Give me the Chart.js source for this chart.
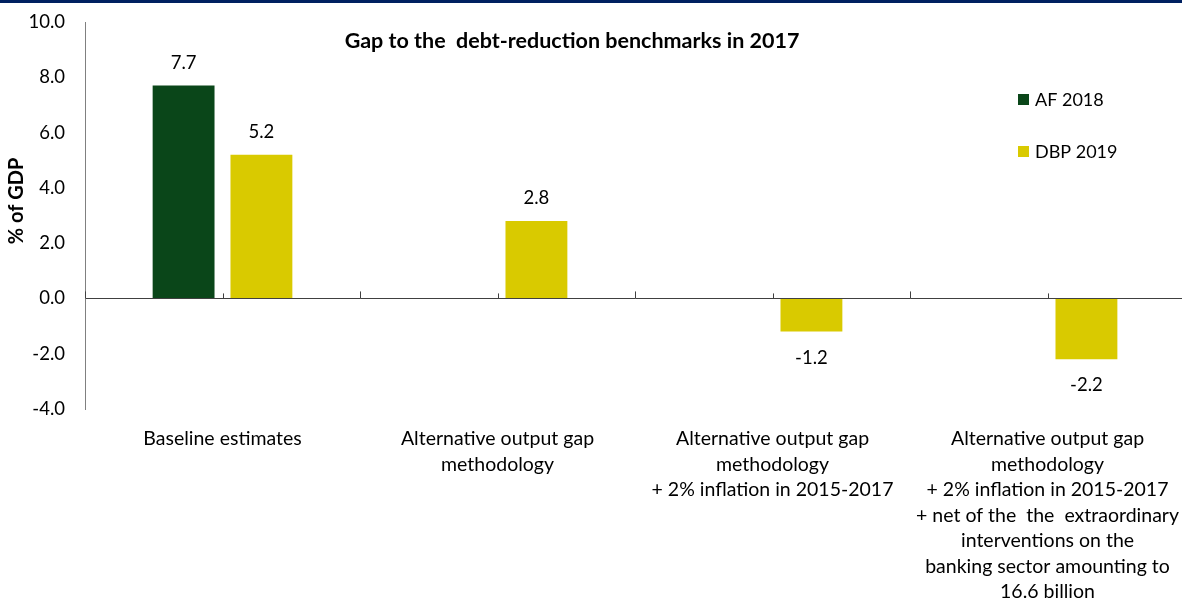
<!DOCTYPE html>
<html>
<head>
<meta charset="utf-8">
<script src="https://cdn.jsdelivr.net/npm/chart.js@4.4.1/dist/chart.umd.min.js"></script>
<style>
  html, body { margin: 0; padding: 0; background: #fff; overflow: hidden; }
  #wrap { width: 1188px; height: 600px; position: relative; }
</style>
</head>
<body>
<div id="wrap"><canvas id="myChart"></canvas></div>
<script>
// chart data
var categories = [
    ["Baseline estimates"],
    ["Alternative output gap", "methodology"],
    ["Alternative output gap", "methodology", "+ 2% inflation in 2015-2017"],
    ["Alternative output gap", "methodology", "+ 2% inflation in 2015-2017",
     "+ net of the  the  extraordinary", "interventions on the",
     "banking sector amounting to", "16.6 billion"]
];
var af2018 = [7.7, null, null, null];
var dbp2019 = [5.2, 2.8, -1.2, -2.2];
var yMin = -4, yMax = 10, yStep = 2;
var chartTitle = "Gap to the  debt-reduction benchmarks in 2017";
var yTitle = "% of GDP";

var FONT = "Lato, 'Open Sans', sans-serif";

// band, titles, zero-line ticks, value labels, legend
var extras = {
    id: 'extras',
    beforeDraw: function(chart) {
        var ctx = chart.ctx;
        ctx.save();
        ctx.fillStyle = '#fff';
        ctx.fillRect(0, 0, chart.width, chart.height);
        ctx.fillStyle = '#002060';
        ctx.fillRect(0, 0, chart.width, 3);
        ctx.restore();
    },
    afterDatasetsDraw: function(chart) {
        var ctx = chart.ctx;
        var xs = chart.scales.x, ys = chart.scales.y;
        var y0 = ys.getPixelForValue(0);
        ctx.save();

        // tick marks on the zero line
        ctx.strokeStyle = '#404040';
        ctx.lineWidth = 1;
        for (var i = 0; i < categories.length; i++) {
            var xb = Math.round(xs.getPixelForValue(i - 0.5)) + 0.5;
            var xc = Math.round(xs.getPixelForValue(i)) + 0.5;
            ctx.beginPath();
            ctx.moveTo(xb, y0); ctx.lineTo(xb, y0 - 7);
            ctx.moveTo(xc, y0); ctx.lineTo(xc, y0 - 5);
            ctx.stroke();
        }

        // value labels
        ctx.fillStyle = '#000';
        ctx.font = '18.5px ' + FONT;
        ctx.textAlign = 'center';
        ctx.textBaseline = 'middle';
        chart.data.datasets.forEach(function(ds, di) {
            var meta = chart.getDatasetMeta(di);
            meta.data.forEach(function(bar, j) {
                var v = ds.data[j];
                if (v === null) return;
                var ty = v >= 0 ? bar.y - 23 : bar.y + 26;
                ctx.fillText(v.toFixed(1), bar.x, ty);
            });
        });

        // title
        ctx.font = 'bold 21.5px ' + FONT;
        ctx.fillText(chartTitle, 572, 41);

        // y axis title
        ctx.save();
        ctx.translate(17, 201);
        ctx.rotate(-Math.PI / 2);
        ctx.font = 'bold 20px ' + FONT;
        ctx.fillText(yTitle, 0, 0);
        ctx.restore();

        // legend
        ctx.textAlign = 'left';
        ctx.font = '18px ' + FONT;
        chart.data.datasets.forEach(function(ds, di) {
            var ly = 100 + di * 52;
            ctx.fillStyle = ds.backgroundColor;
            ctx.fillRect(1018, ly - 6, 11, 11);
            ctx.fillStyle = '#000';
            ctx.fillText(ds.label, 1035, ly);
        });
        ctx.restore();
    }
};

new Chart("myChart", {
    type: "bar",
    data: {
        labels: categories,
        datasets: [
            { label: "AF 2018", data: af2018, backgroundColor: "#0a4619",
              categoryPercentage: 0.566, barPercentage: 0.795 },
            { label: "DBP 2019", data: dbp2019, backgroundColor: "#d9ca00",
              categoryPercentage: 0.566, barPercentage: 0.795 }
        ]
    },
    options: {
        responsive: true,
        maintainAspectRatio: false,
        animation: false,
        layout: { padding: { top: 22, right: 0, bottom: 0, left: 0 } },
        plugins: {
            legend: { display: false },
            tooltip: { enabled: false },
            title: { display: false }
        },
        scales: {
            x: {
                grid: { display: false },
                border: { display: false },
                ticks: {
                    autoSkip: false, maxRotation: 0, minRotation: 0,
                    padding: 9, color: '#000',
                    font: { family: FONT, size: 19.5, lineHeight: '25.5px' }
                },
                afterFit: function(scale) { scale.height = 191; }
            },
            y: {
                min: yMin, max: yMax,
                grid: {
                    drawTicks: true, tickLength: 20, tickColor: 'rgba(0,0,0,0)',
                    color: function(c) { return c.tick && c.tick.value === 0 ? '#404040' : 'rgba(0,0,0,0)'; }
                },
                border: { display: true, color: '#808080' },
                ticks: {
                    stepSize: yStep, padding: 0, color: '#000',
                    font: { family: FONT, size: 18.5 },
                    callback: function(v) { return v.toFixed(1); }
                },
                afterFit: function(scale) { scale.width = 85; }
            }
        }
    },
    plugins: [extras]
});
</script>
</body>
</html>
